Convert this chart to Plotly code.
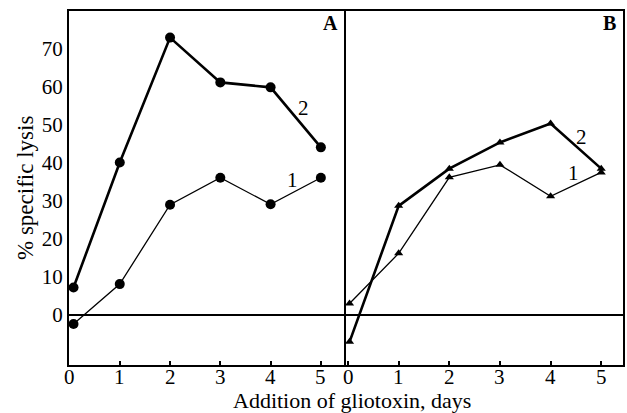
import plotly.graph_objects as go

# Panel A (circles)
days_A = [0.08, 1, 2, 3, 4, 5]
lysis_A1 = [-2.4, 8.1, 29.0, 36.1, 29.1, 36.1]
lysis_A2 = [7.2, 40.1, 73.0, 61.2, 59.9, 44.1]

# Panel B (triangles)
days_B = [0.03, 1, 2, 3, 4, 5]
lysis_B1 = [3.0, 16.2, 36.2, 39.5, 31.2, 37.5]
lysis_B2 = [-7.1, 28.7, 38.5, 45.4, 50.4, 38.5]

x_ticks = [0, 1, 2, 3, 4, 5]
x_tick_labels = ["0", "1", "2", "3", "4", "5"]
y_ticks = [0, 10, 20, 30, 40, 50, 60, 70]

FONT = "Liberation Serif"

fig = go.Figure()

def add(x, y, xa, ya, width, symbol, size):
    fig.add_trace(go.Scatter(
        x=x, y=y, xaxis=xa, yaxis=ya, mode="lines+markers",
        line=dict(color="black", width=width),
        marker=dict(symbol=symbol, size=size, color="black"),
        showlegend=False, cliponaxis=False))

add(days_A, lysis_A1, "x", "y", 1.3, "circle", 10)
add(days_A, lysis_A2, "x", "y", 2.6, "circle", 10)
add(days_B, lysis_B1, "x2", "y2", 1.3, "triangle-up", 8)
add(days_B, lysis_B2, "x2", "y2", 2.6, "triangle-up", 8)

tick_font = dict(family=FONT, size=21, color="black")
xcommon = dict(showline=True, linecolor="black", linewidth=2, mirror=True,
               showgrid=False, zeroline=False, tickvals=x_ticks,
               ticks="inside", ticklen=4, tickwidth=1.5, tickcolor="black",
               showticklabels=False)

annotations = [
    dict(text="Addition of gliotoxin, days", xref="paper", yref="paper",
         x=0.51, y=0, yshift=-35, showarrow=False, yanchor="middle", xanchor="center",
         font=dict(family=FONT, size=22, color="black")),
    dict(text="% specific lysis", xref="paper", yref="paper",
         x=0, xshift=-44, y=0.5, showarrow=False, textangle=-90,
         xanchor="center", yanchor="middle",
         font=dict(family=FONT, size=23, color="black")),
    dict(text="<b>A</b>", x=5.2, y=76.8, xref="x", yref="y", showarrow=False,
         font=dict(family=FONT, size=20, color="black")),
    dict(text="<b>B</b>", x=5.16, y=76.8, xref="x2", yref="y2", showarrow=False,
         font=dict(family=FONT, size=20, color="black")),
    dict(text="2", x=4.66, y=54.4, xref="x", yref="y", showarrow=False,
         font=dict(family=FONT, size=21, color="black")),
    dict(text="1", x=4.43, y=35.4, xref="x", yref="y", showarrow=False,
         font=dict(family=FONT, size=21, color="black")),
    dict(text="2", x=4.61, y=46.8, xref="x2", yref="y2", showarrow=False,
         font=dict(family=FONT, size=21, color="black")),
    dict(text="1", x=4.45, y=37.3, xref="x2", yref="y2", showarrow=False,
         font=dict(family=FONT, size=21, color="black")),
]
# x tick labels, set just under the axis as in the original
for xref in ("x", "x2"):
    for tv, tl in zip(x_ticks, x_tick_labels):
        annotations.append(dict(text=tl, x=tv, xref=xref, y=0, yref="paper",
                                yshift=-12, yanchor="middle", xanchor="center",
                                showarrow=False, font=tick_font))

fig.update_layout(
    width=627, height=413,
    margin=dict(l=69, r=2, t=11, b=48),
    paper_bgcolor="white", plot_bgcolor="white",
    xaxis=dict(domain=[0, 0.5], range=[-0.01, 5.5], **xcommon),
    xaxis2=dict(domain=[0.5, 1], range=[-0.04, 5.43], anchor="y2", **xcommon),
    yaxis=dict(range=[-13.2, 80], tickvals=y_ticks, ticks="",
               showline=True, linecolor="black", linewidth=2, mirror=False,
               showgrid=False, zeroline=True, zerolinecolor="black", zerolinewidth=1.6,
               ticklabelstandoff=0, tickfont=tick_font),
    yaxis2=dict(range=[-13.2, 80], anchor="x2", showticklabels=False, ticks="",
                showline=True, linecolor="black", linewidth=2, mirror=True,
                showgrid=False, zeroline=True, zerolinecolor="black", zerolinewidth=1.6),
    annotations=annotations,
)

fig.write_html("out.html", config={"displayModeBar": False},
               post_script="document.body.style.margin='0';")
